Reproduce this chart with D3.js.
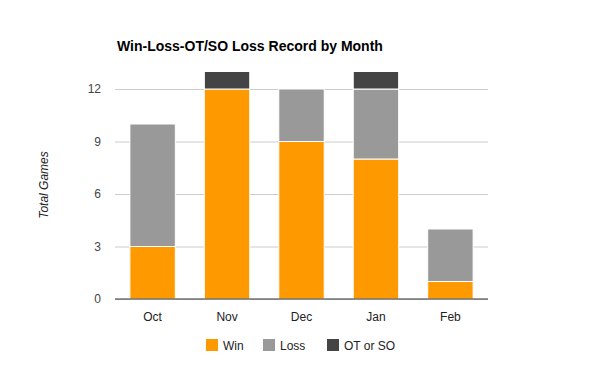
<!DOCTYPE html>
<html>
<head>
<meta charset="utf-8">
<script src="https://cdn.jsdelivr.net/npm/d3@7"></script>
<style>
  body { margin: 0; background: #fff; }
  text { font-family: Arial, "Liberation Sans", sans-serif; }
</style>
</head>
<body>
<div id="chart"></div>
<script>
var months = ['Oct', 'Nov', 'Dec', 'Jan', 'Feb'],
    wins = [3, 12, 9, 8, 1],
    losses = [7, 0, 3, 4, 3],
    otLosses = [0, 1, 0, 1, 0],
    seriesNames = ['Win', 'Loss', 'OT or SO'],
    seriesColors = ['#ff9900', '#999999', '#444444'],
    yTicks = [0, 3, 6, 9, 12];

var width = 600, height = 371,
    margin = {top: 89 - 12 * 17.5, left: 115, right: 112, bottom: 72};

var svg = d3.select('#chart').append('svg')
    .attr('width', width)
    .attr('height', height);

// stack the three series per month
var rows = months.map(function (m, i) {
  return {month: m, 'Win': wins[i], 'Loss': losses[i], 'OT or SO': otLosses[i]};
});
var stacked = d3.stack().keys(seriesNames)(rows);

var x = d3.scaleBand()
    .domain(months)
    .range([margin.left, width - margin.right])
    .paddingInner(0.39)
    .paddingOuter(0.2);

var y = d3.scaleLinear()
    .domain([0, 12])
    .range([299, 89]);

var color = d3.scaleOrdinal().domain(seriesNames).range(seriesColors);

// title
svg.append('text')
    .attr('x', 117).attr('y', 51)
    .style('font-size', '14px').style('font-weight', 'bold')
    .attr('fill', '#000')
    .text('Win-Loss-OT/SO Loss Record by Month');

// gridlines + y axis
var yAxis = svg.append('g')
    .attr('transform', 'translate(' + margin.left + ',0)')
    .call(d3.axisLeft(y).tickValues(yTicks)
      .tickSize(-(width - margin.right - margin.left)).tickPadding(14));
yAxis.select('.domain').remove();
yAxis.selectAll('.tick line').attr('stroke', '#cccccc');
yAxis.selectAll('.tick text')
    .attr('fill', '#444').style('font-size', '12px');

// bars
svg.append('g').selectAll('g')
  .data(stacked)
  .join('g')
    .attr('fill', function (d) { return color(d.key); })
  .selectAll('rect')
  .data(function (d) { return d.filter(function (s) { return s[1] > s[0]; }); })
  .join('rect')
    .attr('x', function (d) { return x(d.data.month); })
    .attr('width', x.bandwidth())
    .attr('y', function (d) { return y(d[1]); })
    .attr('height', function (d) { return y(d[0]) - y(d[1]); })
    .attr('stroke', '#fff')
    .attr('stroke-width', 1);

// baseline + x labels
var xAxis = svg.append('g')
    .attr('transform', 'translate(0,' + y(0) + ')')
    .call(d3.axisBottom(x).tickSize(0).tickPadding(13));
xAxis.select('.domain').remove();
xAxis.selectAll('.tick text').attr('fill', '#222').style('font-size', '12px');
svg.append('line')
    .attr('x1', margin.left).attr('x2', width - margin.right)
    .attr('y1', y(0)).attr('y2', y(0))
    .attr('stroke', '#333');

// y label
svg.append('text')
    .attr('transform', 'translate(48,' + 185 + ') rotate(-90)')
    .attr('text-anchor', 'middle')
    .style('font-size', '12px').style('font-style', 'italic')
    .attr('fill', '#222')
    .text('Total Games');

// legend
var legendX = [206, 263, 327];
var legend = svg.append('g').selectAll('g')
  .data(seriesNames)
  .join('g')
    .attr('transform', function (d, i) { return 'translate(' + legendX[i] + ',339)'; });
legend.append('rect')
    .attr('width', 12).attr('height', 12)
    .attr('fill', function (d) { return color(d); });
legend.append('text')
    .attr('x', 17).attr('y', 10.5)
    .style('font-size', '12px').attr('fill', '#222')
    .text(function (d) { return d; });
</script>
</body>
</html>
